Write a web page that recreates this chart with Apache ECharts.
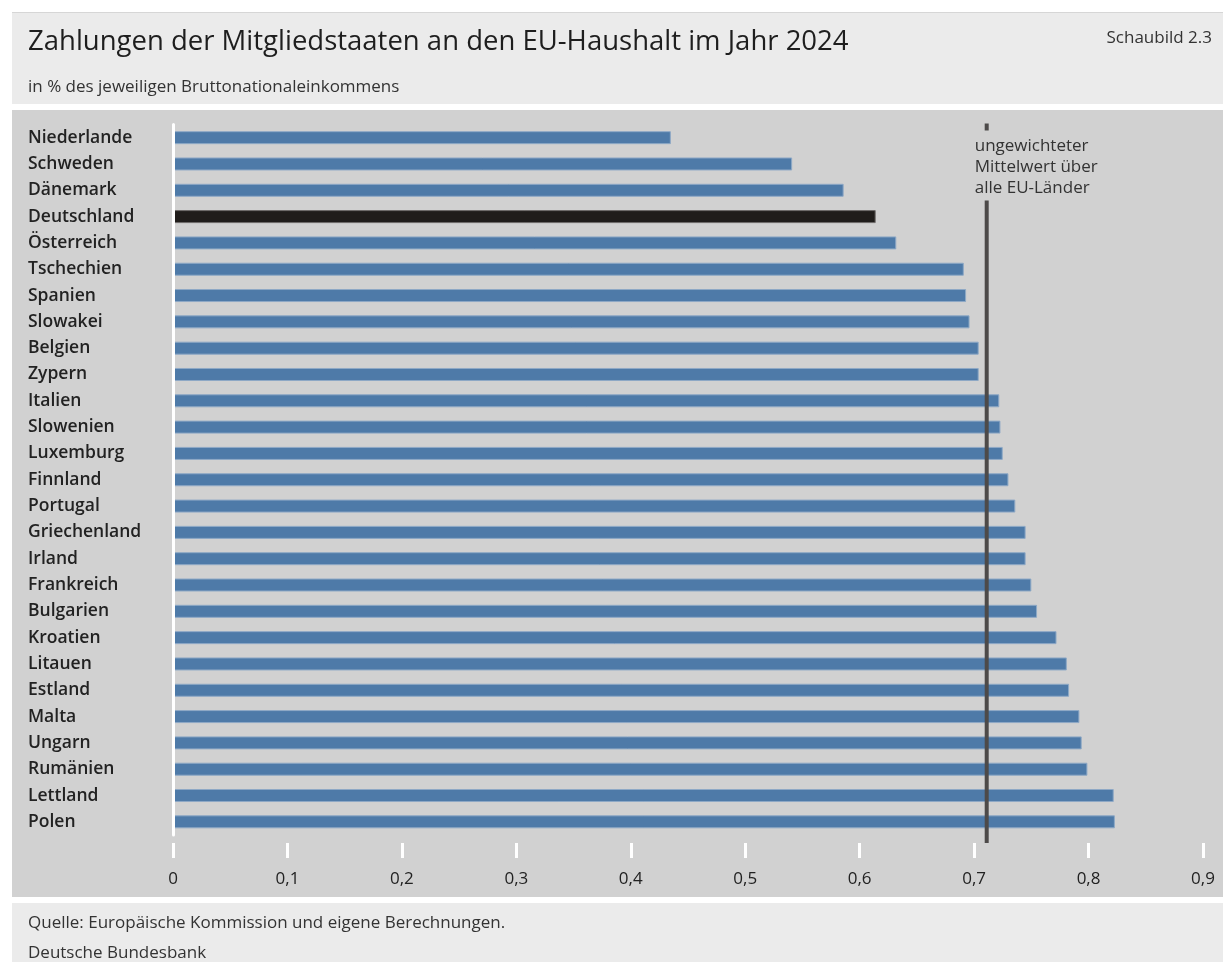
<!DOCTYPE html>
<html>
<head>
<meta charset="utf-8">
<script src="https://cdn.jsdelivr.net/npm/echarts@6/dist/echarts.min.js"></script>
<style>
html,body{margin:0;padding:0;background:#fff;}
#chart{width:1223px;height:962px;}
</style>
</head>
<body>
<div id="chart"></div>
<script>
const categories = ['Niederlande','Schweden','Dänemark','Deutschland','Österreich','Tschechien','Spanien','Slowakei','Belgien','Zypern','Italien','Slowenien','Luxemburg','Finnland','Portugal','Griechenland','Irland','Frankreich','Bulgarien','Kroatien','Litauen','Estland','Malta','Ungarn','Rumänien','Lettland','Polen'];
const values = [0.435,0.541,0.586,0.614,0.632,0.691,0.693,0.696,0.704,0.704,0.722,0.723,0.725,0.730,0.736,0.745,0.745,0.750,0.755,0.772,0.781,0.783,0.792,0.794,0.799,0.822,0.823];
const meanValue = 0.711;
const highlight = 'Deutschland';
const titleText = 'Zahlungen der Mitgliedstaaten an den EU-Haushalt im Jahr 2024';
const subtitleText = 'in % des jeweiligen Bruttonationaleinkommens';
const figureLabel = 'Schaubild 2.3';
const meanLabel = 'ungewichteter\nMittelwert über\nalle EU-Länder';
const sourceText = 'Quelle: Europäische Kommission und eigene Berechnungen.';
const publisherText = 'Deutsche Bundesbank';

const FONT = '"Open Sans", "Noto Sans", sans-serif';
const chart = echarts.init(document.getElementById('chart'), null, {renderer: 'canvas'});

const option = {
  animation: false,
  backgroundColor: '#ffffff',
  graphic: [
    {type: 'rect', z: -10, shape: {x: 12, y: 12, width: 1211, height: 92}, style: {fill: '#ebebeb'}},
    {type: 'rect', z: -10, shape: {x: 12, y: 12, width: 1211, height: 1}, style: {fill: '#d6d6d6'}},
    {type: 'rect', z: -10, shape: {x: 12, y: 110, width: 1211, height: 787}, style: {fill: '#d1d1d1'}},
    {type: 'rect', z: -10, shape: {x: 12, y: 903, width: 1211, height: 59}, style: {fill: '#ebebeb'}},
    {type: 'text', left: 28, top: 28, style: {text: titleText, font: '400 27.5px ' + FONT, fill: '#1e1e1e'}},
    {type: 'text', right: 11, top: 30, style: {text: figureLabel, font: '400 17px ' + FONT, fill: '#333'}},
    {type: 'text', left: 28, top: 79, style: {text: subtitleText, font: '400 17px ' + FONT, fill: '#333'}},
    {type: 'text', left: 28, top: 915, style: {text: sourceText, font: '400 17px ' + FONT, fill: '#333'}},
    {type: 'text', left: 28, top: 945, style: {text: publisherText, font: '400 17px ' + FONT, fill: '#333'}}
  ],
  grid: {left: 173, right: 20, top: 124.5, bottom: 127, containLabel: false},
  xAxis: {
    type: 'value', min: 0, max: 0.9, interval: 0.1, position: 'bottom', offset: 8, z: 3,
    axisLine: {show: false},
    axisTick: {show: true, length: 15, lineStyle: {color: '#ffffff', width: 3}},
    splitLine: {show: false},
    axisLabel: {margin: 28, fontSize: 17, color: '#222', fontFamily: FONT,
      formatter: v => (Math.round(v * 10) / 10).toString().replace('.', ',')}
  },
  yAxis: {
    type: 'category', data: categories, inverse: true, z: 3,
    axisLine: {show: true, lineStyle: {color: '#ffffff', width: 3}},
    axisTick: {show: false},
    splitLine: {show: false},
    axisLabel: {align: 'left', margin: 145, fontSize: 17.5, fontWeight: 600, color: '#222', fontFamily: FONT}
  },
  series: [
    {
      type: 'bar', barWidth: 13, z: 2,
      data: values.map((v, i) => ({
        value: v,
        itemStyle: categories[i] === highlight
          ? {color: '#201d1b', borderColor: '#6e6b69', borderWidth: 1}
          : {color: '#4e7aa8', borderColor: '#8ea9c6', borderWidth: 1}
      }))
    },
    {
      type: 'custom', z: 5, clip: false,
      data: [[meanValue]],
      encode: {x: 0},
      renderItem: function (params, api) {
        const x = api.coord([api.value(0), 0])[0];
        const cs = params.coordSys;
        const top = cs.y;
        const bottom = cs.y + cs.height;
        return {
          type: 'group',
          children: [
            {type: 'rect', shape: {x: x - 2, y: top - 1, width: 4, height: 7}, style: {fill: '#4d4a49'}},
            {type: 'rect', shape: {x: x - 2, y: top + 76, width: 4, height: bottom + 8 - (top + 76)}, style: {fill: '#4d4a49'}},
            {type: 'text', x: x - 12, y: top + 11, style: {text: meanLabel, font: '400 17px ' + FONT, fill: '#333', lineHeight: 21, textAlign: 'left', textVerticalAlign: 'top'}}
          ]
        };
      }
    }
  ]
};
chart.setOption(option);
</script>
</body>
</html>
